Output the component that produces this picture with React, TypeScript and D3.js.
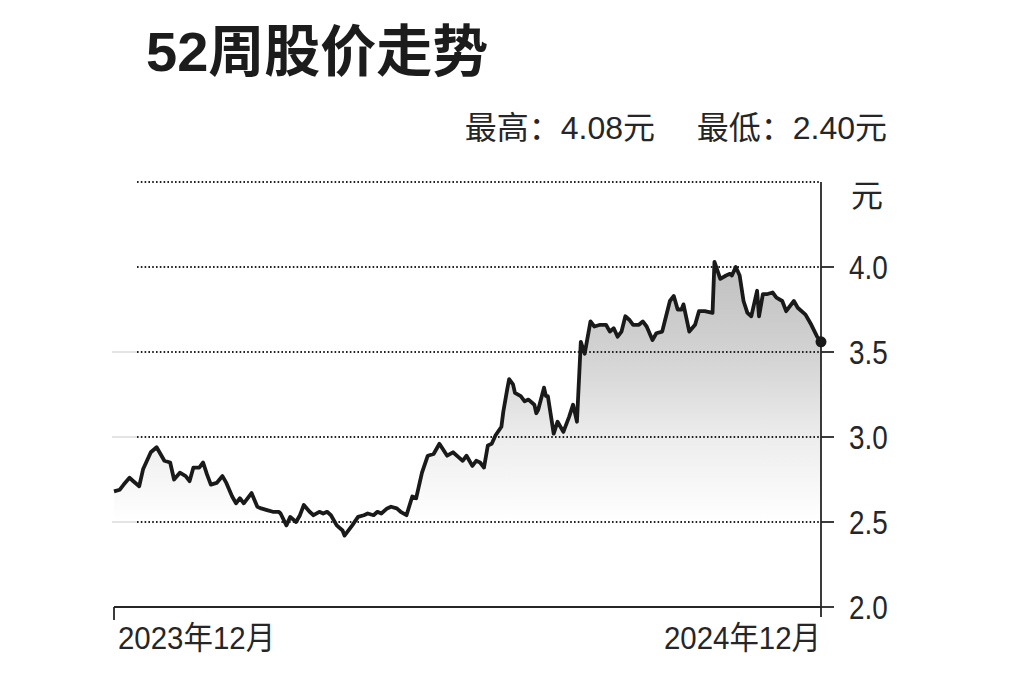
import React from 'react';
import * as d3 from 'd3';

// trading days since the first point
const dayOffsets = [
  0, 3, 5, 8, 10, 13, 15, 19, 22, 24, 26, 29, 31, 34, 37, 39, 41, 44, 46, 48,
  50, 53, 56, 58, 61, 63, 65, 67, 71, 74, 76, 79, 82, 85, 86, 89, 91, 94, 96, 98,
  101, 103, 106, 108, 110, 112, 115, 118, 119, 123, 126, 129, 131, 134, 136, 138, 141, 143, 146, 148,
  151, 154, 156, 159, 162, 165, 168, 172, 175, 178, 180, 182, 185, 187, 189, 191, 193, 195, 197, 200,
  201, 203, 204, 206, 207, 210, 212, 214, 217, 218, 219, 222, 223, 224, 227, 229, 232, 235, 237, 239,
  241, 243, 246, 248, 251, 254, 256, 258, 260, 262, 264, 266, 268, 271, 273, 275, 278, 280, 283, 285,
  287, 289, 291, 293, 294, 297, 300, 302, 305, 309, 310, 313, 316, 318, 319, 321, 323, 325, 327, 329,
  332, 333, 335, 337, 340, 342, 345, 347, 351, 353, 357, 360, 363, 365,
];

const prices = [
  2.68, 2.69, 2.72, 2.76, 2.74, 2.71, 2.81, 2.91, 2.94, 2.9, 2.86, 2.85, 2.75, 2.79, 2.77, 2.74, 2.82, 2.82, 2.85, 2.78,
  2.72, 2.73, 2.77, 2.73, 2.65, 2.61, 2.64, 2.61, 2.67, 2.59, 2.58, 2.57, 2.56, 2.56, 2.55, 2.48, 2.53, 2.5, 2.54, 2.6,
  2.56, 2.54, 2.56, 2.55, 2.56, 2.54, 2.48, 2.45, 2.42, 2.48, 2.53, 2.54, 2.55, 2.54, 2.56, 2.55, 2.58, 2.59, 2.58, 2.56,
  2.54, 2.65, 2.64, 2.79, 2.89, 2.9, 2.96, 2.89, 2.91, 2.88, 2.86, 2.89, 2.83, 2.86, 2.85, 2.82, 2.95, 2.96, 3.01, 3.06,
  3.15, 3.28, 3.34, 3.31, 3.26, 3.24, 3.21, 3.22, 3.19, 3.14, 3.16, 3.29, 3.24, 3.24, 3.02, 3.09, 3.03, 3.12, 3.19, 3.09,
  3.56, 3.49, 3.68, 3.65, 3.66, 3.66, 3.62, 3.64, 3.59, 3.62, 3.71, 3.69, 3.66, 3.66, 3.68, 3.65, 3.57, 3.61, 3.62, 3.71,
  3.8, 3.83, 3.75, 3.75, 3.78, 3.62, 3.66, 3.74, 3.74, 3.73, 4.03, 3.93, 3.95, 3.96, 3.95, 4.0, 3.95, 3.8, 3.73, 3.71,
  3.86, 3.71, 3.84, 3.84, 3.85, 3.82, 3.8, 3.74, 3.8, 3.76, 3.72, 3.66, 3.59, 3.56,
];

const yTicks = [2.0, 2.5, 3.0, 3.5, 4.0];
const gridValues = [2.5, 3.0, 3.5, 4.0, 4.5];
const xLabels = ['2023年12月', '2024年12月'];
const title = '52周股价走势';
const highLabel = '最高：4.08元';
const lowLabel = '最低：2.40元';
const unitLabel = '元';

const startDate = new Date(2023, 11, 13);

const W = 1024;
const H = 682;
const plot = { left: 114, right: 821, top: 182, bottom: 607 };

const sans = "'Liberation Sans', 'Noto Sans CJK SC', sans-serif";
const ink = '#262626';

export default function App() {
  const points = dayOffsets.map((d, i) => ({ date: d3.timeDay.offset(startDate, d), value: prices[i] }));

  const x = d3.scaleTime()
    .domain([startDate, d3.timeDay.offset(startDate, dayOffsets[dayOffsets.length - 1])])
    .range([plot.left, plot.right]);

  const y = d3.scaleLinear()
    .domain([2.0, 4.5])
    .range([plot.bottom, plot.top]);

  const line = d3.line<{ date: Date; value: number }>()
    .x(d => x(d.date))
    .y(d => y(d.value));

  const area = d3.area<{ date: Date; value: number }>()
    .x(d => x(d.date))
    .y0(y(2.0))
    .y1(d => y(d.value));

  const last = points[points.length - 1];

  return (
    <svg width={W} height={H} style={{ position: 'absolute', left: 0, top: 0, background: '#fff' }}>
      <defs>
        <linearGradient id="shade" gradientUnits="userSpaceOnUse" x1={0} x2={0} y1={y(3.9)} y2={y(2.5)}>
          <stop offset="0%" stopColor="#c4c4c4" />
          <stop offset="30%" stopColor="#d3d3d3" />
          <stop offset="65%" stopColor="#ededed" />
          <stop offset="100%" stopColor="#ffffff" />
        </linearGradient>
      </defs>

      {/* title + summary */}
      <text x={146} y={71} fontSize={56} fontWeight={700} fontFamily={sans} fill="#1c1c1c">{title}</text>
      <text x={655} y={139} fontSize={32} textAnchor="end" fontFamily={sans} fill={ink}>{highLabel}</text>
      <text x={887} y={139} fontSize={32} textAnchor="end" fontFamily={sans} fill={ink}>{lowLabel}</text>

      {/* area under the line */}
      <path d={area(points) ?? ''} fill="url(#shade)" />

      {/* faint left stubs of the grid */}
      {gridValues.filter(v => v < 4.0).map(v => (
        <line key={'s' + v} x1={112} x2={137} y1={y(v)} y2={y(v)} stroke="#e4e4e4" strokeWidth={2} />
      ))}

      {/* dotted grid */}
      {gridValues.map(v => (
        <line key={v} x1={137} x2={plot.right} y1={y(v)} y2={y(v)}
          stroke="#222" strokeWidth={1.8} strokeDasharray="1.6,2.2" />
      ))}

      {/* axes */}
      <line x1={plot.right} x2={plot.right} y1={y(4.5)} y2={plot.bottom + 10} stroke={ink} strokeWidth={1.8} />
      <line x1={plot.left} x2={plot.right} y1={plot.bottom} y2={plot.bottom} stroke={ink} strokeWidth={1.8} />
      <line x1={plot.left} x2={plot.left} y1={plot.bottom} y2={plot.bottom + 13} stroke={ink} strokeWidth={1.8} />

      {yTicks.map(v => (
        <g key={'t' + v}>
          <line x1={plot.right} x2={plot.right + 13} y1={y(v)} y2={y(v)} stroke={ink} strokeWidth={1.8} />
          <text transform={`translate(849,${y(v) + 12}) scale(0.82,1)`} fontSize={34} fontFamily={sans} fill={ink}>
            {v.toFixed(1)}
          </text>
        </g>
      ))}
      <text x={851} y={207} fontSize={32} fontFamily={sans} fill={ink}>{unitLabel}</text>

      {/* price line */}
      <path d={line(points) ?? ''} fill="none" stroke="#1a1a1a" strokeWidth={3.8} strokeLinejoin="round" />
      <circle cx={x(last.date)} cy={y(last.value)} r={5.5} fill="#1a1a1a" />

      {/* x labels */}
      <text transform={`translate(118,649) scale(0.92,1)`} fontSize={32} fontFamily={sans} fill={ink}>{xLabels[0]}</text>
      <text transform={`translate(${plot.right},649) scale(0.92,1)`} fontSize={32} textAnchor="end" fontFamily={sans} fill={ink}>
        {xLabels[1]}
      </text>
    </svg>
  );
}
